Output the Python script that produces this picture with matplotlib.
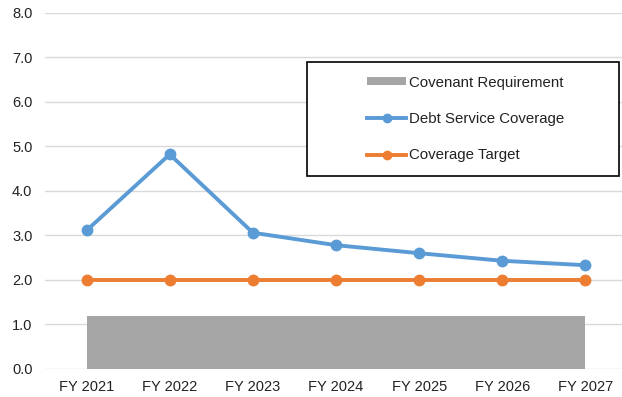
import numpy as np
import matplotlib.pyplot as plt
from matplotlib.patches import Rectangle

plt.rcParams['font.family'] = ['Liberation Sans', 'DejaVu Sans']

years = ['FY 2021', 'FY 2022', 'FY 2023', 'FY 2024', 'FY 2025', 'FY 2026', 'FY 2027']
covenant = [1.2, 1.2, 1.2, 1.2, 1.2, 1.2, 1.2]
coverage = [3.11, 4.82, 3.06, 2.78, 2.60, 2.43, 2.33]
target = [2.0, 2.0, 2.0, 2.0, 2.0, 2.0, 2.0]

x = np.arange(len(years))

fig = plt.figure(figsize=(6.22, 3.97), dpi=100)
ax = fig.add_axes([45 / 622, 1 - 369 / 397, 1 - 45 / 622, (369 - 12.7) / 397])

ax.fill_between(x, 0, covenant, color='#A5A5A5', linewidth=0, label='Covenant Requirement', zorder=2)
ax.plot(x, coverage, color='#5B9BD5', lw=2.8, marker='o', ms=7.5, label='Debt Service Coverage', zorder=3)
ax.plot(x, target, color='#ED7D31', lw=2.8, marker='o', ms=7.5, label='Coverage Target', zorder=3)

ax.set_xlim(-0.5, 6.44)
ax.set_ylim(0, 8)
ax.set_yticks(np.arange(0, 9, 1))
ax.set_yticklabels([f'{v:.1f}' for v in range(9)])
ax.set_xticks(x)
ax.set_xticklabels(years)
ax.tick_params(axis='both', length=0, labelsize=10.5, colors='#222222')
ax.tick_params(axis='y', pad=9)
ax.tick_params(axis='x', pad=8)
ax.grid(axis='y', color='#D9D9D9', lw=1, zorder=0)
for s in ax.spines.values():
    s.set_visible(False)
ax.set_axisbelow(True)

# legend frame
fig.patches.append(Rectangle((307 / 622, 1 - 176 / 397), 312 / 622, 114 / 397,
                             transform=fig.transFigure, facecolor='white',
                             edgecolor='black', lw=1.2, zorder=5))
leg = fig.legend(loc='center', bbox_to_anchor=(466 / 622, 1 - 119 / 397),
                 frameon=False, fontsize=10.8, handlelength=2.6, handleheight=0.5,
                 handletextpad=0.2, labelspacing=1.5, markerscale=0.8)
leg.set_zorder(6)
for t in leg.get_texts():
    t.set_color('#222222')

fig.savefig('out.png', dpi=100)
